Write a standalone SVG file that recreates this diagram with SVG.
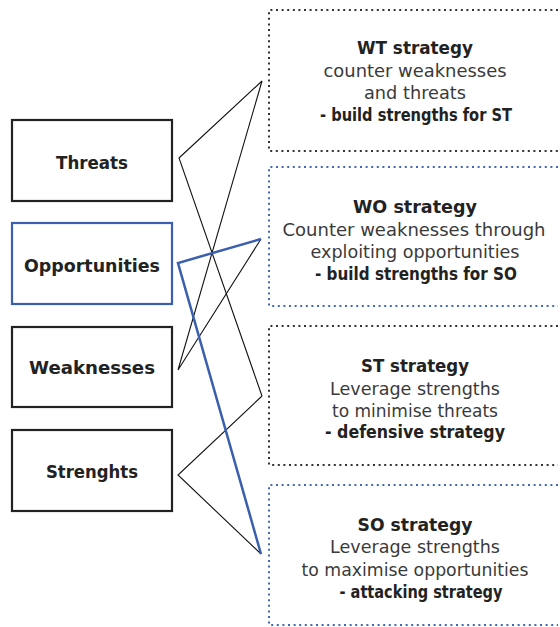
<svg xmlns="http://www.w3.org/2000/svg" width="560" height="627" viewBox="0 0 560 627">
<style>
.bg{fill:#ffffff}
.lbox{fill:none;stroke:#222;stroke-width:2.2}
.lbox.blue{stroke:#3a5fae}
.dot{fill:none;stroke:#333;stroke-width:2;stroke-dasharray:2 3.6}
.dot.blue{stroke:#4468b8}
.lbl{font-family:"DejaVu Sans",sans-serif;font-weight:bold;font-size:17px;fill:#222;text-anchor:middle}
.t{font-family:"DejaVu Sans",sans-serif;font-weight:bold;font-size:17px;fill:#222;text-anchor:middle}
.r{font-family:"DejaVu Sans",sans-serif;font-size:17px;fill:#3a3a3a;text-anchor:middle}
.b{font-family:"DejaVu Sans",sans-serif;font-weight:bold;font-size:17px;fill:#222;text-anchor:middle}
.c{fill:none;stroke:#111;stroke-width:1.1}
.c.blue{stroke:#3a5fae;stroke-width:2.5}
</style>
<rect class="bg" width="560" height="627"/>
<g id="connectors">
<path class="c" d="M262,81 L179,158 L262,396"/>
<path class="c" d="M262,81 L178,370 L261,239"/>
<path class="c" d="M262,396 L178,475 L261,554"/>
<path class="c blue" d="M261,239 L178,263 L261,554"/>
</g>
<g id="threats">
<rect class="lbox" x="12" y="120" width="160" height="81"/>
<text class="lbl" x="92" y="169" textLength="72" lengthAdjust="spacingAndGlyphs">Threats</text>
</g>
<g id="opportunities">
<rect class="lbox blue" x="12" y="223" width="160" height="81"/>
<text class="lbl" x="92" y="272" textLength="136" lengthAdjust="spacingAndGlyphs">Opportunities</text>
</g>
<g id="weaknesses">
<rect class="lbox" x="12" y="327" width="160" height="80"/>
<text class="lbl" x="92" y="374" textLength="126" lengthAdjust="spacingAndGlyphs">Weaknesses</text>
</g>
<g id="strenghts">
<rect class="lbox" x="12" y="430" width="160" height="81"/>
<text class="lbl" x="92" y="478" textLength="92" lengthAdjust="spacingAndGlyphs">Strenghts</text>
</g>
<g id="wt">
<path class="dot" d="M558,10 H269 V151 H558"/>
<text class="t" x="415" y="54" textLength="116" lengthAdjust="spacingAndGlyphs">WT strategy</text>
<text class="r" x="415" y="77" textLength="183" lengthAdjust="spacingAndGlyphs">counter weaknesses</text>
<text class="r" x="415" y="99" textLength="102" lengthAdjust="spacingAndGlyphs">and threats</text>
<text class="b" x="416" y="121" textLength="192" lengthAdjust="spacingAndGlyphs">- build strengths for ST</text>
</g>
<g id="wo">
<path class="dot blue" d="M558,167 H269 V306 H558"/>
<text class="t" x="415" y="213" textLength="124" lengthAdjust="spacingAndGlyphs">WO strategy</text>
<text class="r" x="414" y="236" textLength="263" lengthAdjust="spacingAndGlyphs">Counter weaknesses through</text>
<text class="r" x="415" y="258" textLength="209" lengthAdjust="spacingAndGlyphs">exploiting opportunities</text>
<text class="b" x="416" y="280" textLength="202" lengthAdjust="spacingAndGlyphs">- build strengths for SO</text>
</g>
<g id="st">
<path class="dot" d="M558,326 H269 V465 H558"/>
<text class="t" x="415" y="372" textLength="108" lengthAdjust="spacingAndGlyphs">ST strategy</text>
<text class="r" x="415" y="395" textLength="170" lengthAdjust="spacingAndGlyphs">Leverage strengths</text>
<text class="r" x="415" y="417" textLength="166" lengthAdjust="spacingAndGlyphs">to minimise threats</text>
<text class="b" x="415" y="438" textLength="180" lengthAdjust="spacingAndGlyphs">- defensive strategy</text>
</g>
<g id="so">
<path class="dot blue" d="M558,485 H269 V625 H558"/>
<text class="t" x="415" y="531" textLength="115" lengthAdjust="spacingAndGlyphs">SO strategy</text>
<text class="r" x="415" y="553" textLength="170" lengthAdjust="spacingAndGlyphs">Leverage strengths</text>
<text class="r" x="415" y="576" textLength="227" lengthAdjust="spacingAndGlyphs">to maximise opportunities</text>
<text class="b" x="421" y="598" textLength="163" lengthAdjust="spacingAndGlyphs">- attacking strategy</text>
</g>
</svg>
